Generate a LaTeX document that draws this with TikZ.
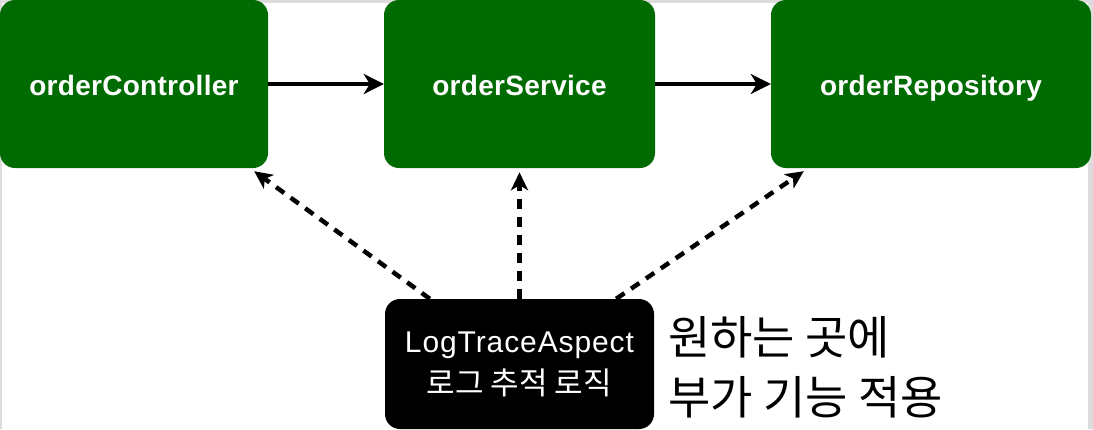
\documentclass[tikz,border=0pt]{standalone}
\usepackage{fontspec}
\setmainfont{Liberation Sans}
\newfontfamily\hangul{Noto Sans CJK KR}
\usetikzlibrary{arrows.meta}
\definecolor{beangreen}{HTML}{006B00}
\definecolor{framegray}{HTML}{DCDCDC}
\tikzset{
  compbox/.style={fill=beangreen, rounded corners=15pt, minimum height=168pt, inner sep=0pt,
    text height=23pt, text depth=0pt,
    text=white, font=\fontsize{28}{32}\selectfont\bfseries\addfontfeature{LetterSpace=1}},
  aspectbox/.style={fill=black, rounded corners=15pt, minimum width=269pt, minimum height=130pt,
    inner sep=0pt, text=white, align=center, font=\fontsize{30}{42}\selectfont\addfontfeature{LetterSpace=3}},
  notetext/.style={align=left, inner sep=0pt, font=\hangul\fontsize{46}{60}\selectfont},
  callarrow/.style={line width=4.5pt, -{Stealth[length=20pt,width=20pt,inset=6pt]}},
  advicearrow/.style={line width=4.5pt, dash pattern=on 10pt off 8pt, -{Stealth[length=18pt,width=17pt,inset=5pt]}}
}
\begin{document}
\begin{tikzpicture}[x=1pt,y=-1pt]
  \useasboundingbox (0,0) rectangle (1093,429);
  % frame of the screenshot
  \fill[framegray] (0,0) rectangle (1093,429);
  \fill[white] (2,3) rectangle (1088,429);
  % components
  \node[compbox, minimum width=268pt] (ctrl) at (134,84) {orderController};
  \node[compbox, minimum width=271pt] (svc) at (519.5,84) {orderService};
  \node[compbox, minimum width=320pt] (repo) at (931,84) {orderRepository};
  \node[aspectbox] (aspect) at (519.5,364) {LogTraceAspect\\{\hangul\fontsize{31}{42}\selectfont 로그 추적 로직}};
  \node[notetext, anchor=west] (note) at (668,367) {원하는 곳에\\부가 기능 적용};
  % calls
  \draw[callarrow] (ctrl) -- (svc);
  \draw[callarrow] (svc) -- (repo);
  % advice
  \draw[advicearrow] ([xshift=45pt]aspect.north west) -- ([xshift=-14pt,yshift=-3pt]ctrl.south east);
  \draw[advicearrow] (aspect.north) -- ([yshift=-4pt]svc.south);
  \draw[advicearrow] ([xshift=-38pt]aspect.north east) -- ([xshift=33pt,yshift=-3pt]repo.south west);
\end{tikzpicture}
\end{document}
